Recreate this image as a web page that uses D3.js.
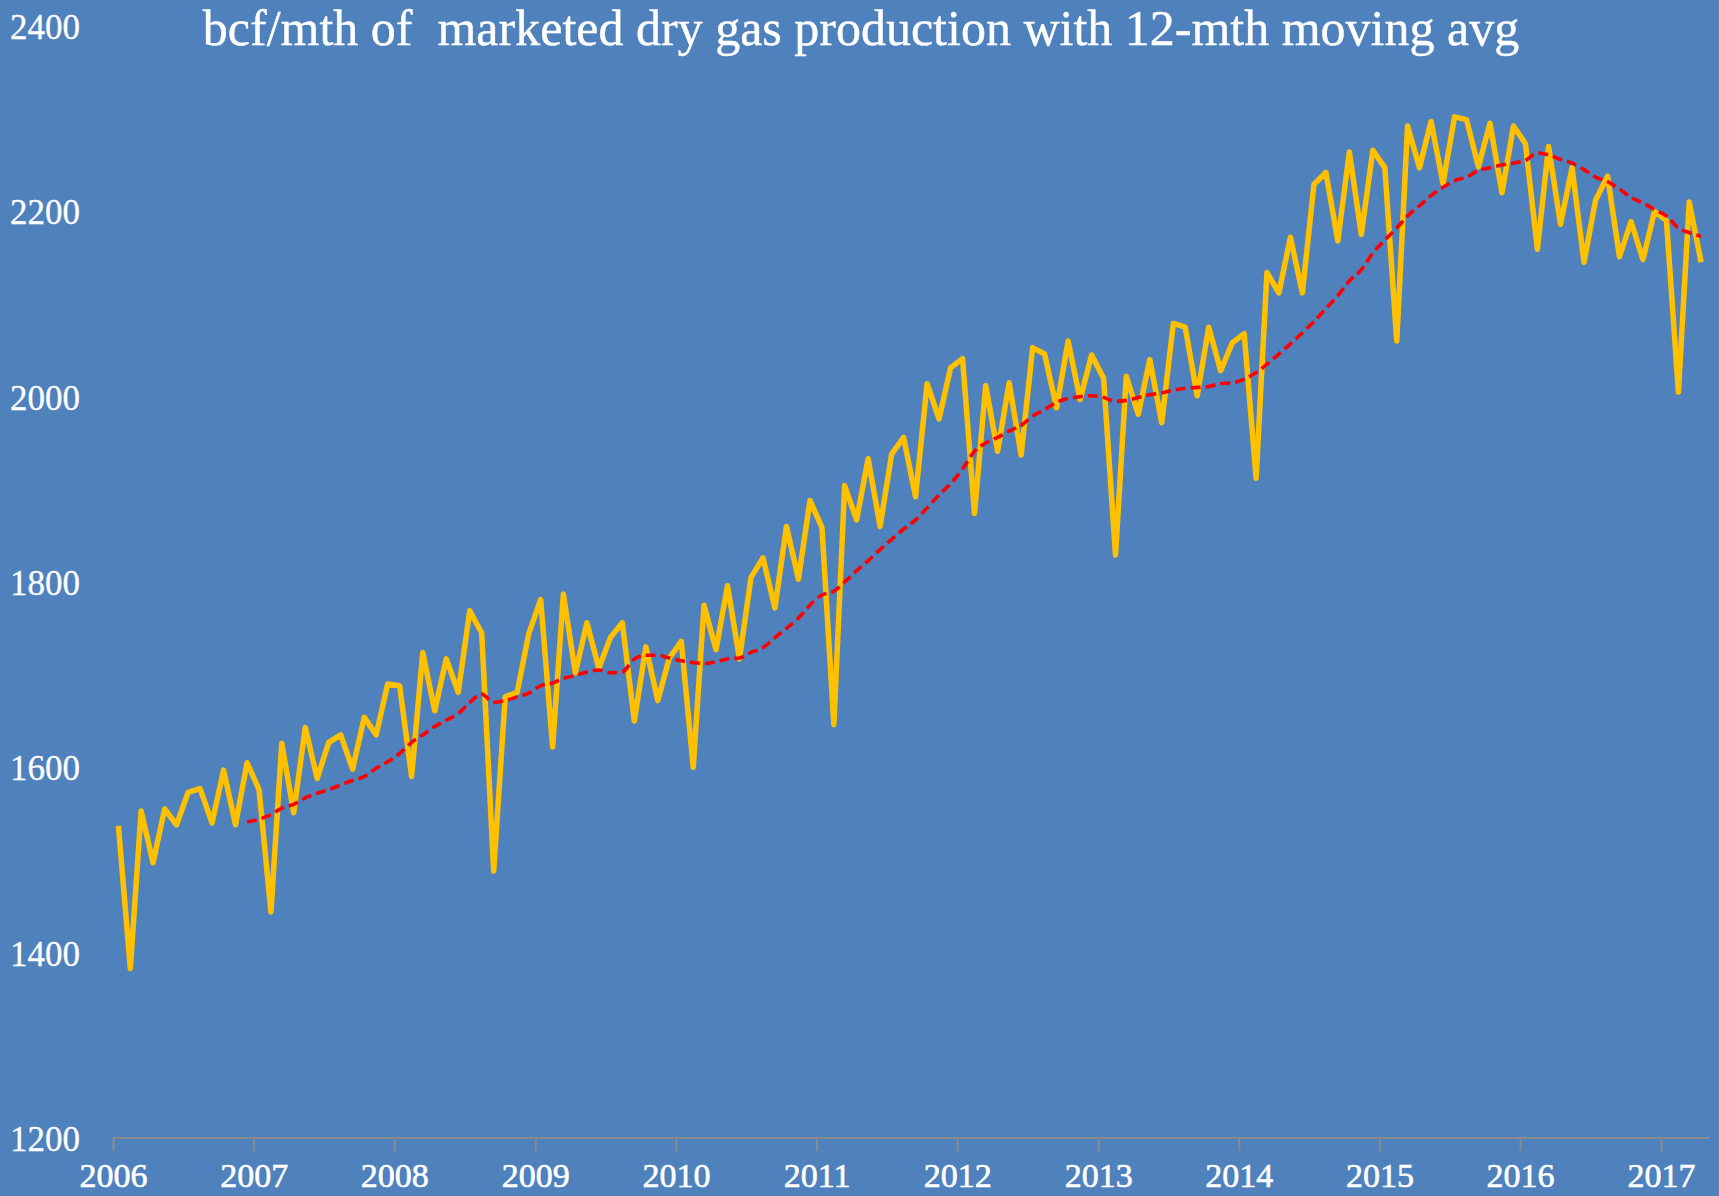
<!DOCTYPE html>
<html>
<head>
<meta charset="utf-8">
<script src="https://cdn.jsdelivr.net/npm/d3@7"></script>
<style>
  html, body { margin: 0; padding: 0; background: #4F81BD; }
  svg { display: block; }
</style>
</head>
<body>
<svg id="chart" width="1719" height="1196"></svg>
<script>
// ---- data ----
const title = "bcf/mth of  marketed dry gas production with 12-mth moving avg";
const firstMonth = [2006, 0]; // Jan 2006
// monthly marketed dry gas production, bcf/mth, Jan 2006 .. Apr 2017
const production = [
  1537, 1383, 1553, 1497, 1555, 1538, 1573, 1577, 1540, 1597, 1538, 1605,
  1576, 1444, 1626, 1551, 1643, 1588, 1627, 1635, 1598, 1654, 1635, 1690,
  1688, 1590, 1724, 1661, 1717, 1681, 1769, 1745, 1488, 1676, 1681, 1744,
  1781, 1622, 1787, 1702, 1756, 1707, 1740, 1756, 1650, 1730, 1672, 1718,
  1736, 1600, 1775, 1727, 1796, 1717, 1805, 1826, 1772, 1860, 1803, 1888,
  1859, 1646, 1904, 1867, 1933, 1860, 1938, 1956, 1892, 2014, 1976, 2031,
  2041, 1874, 2012, 1941, 2015, 1937, 2053, 2046, 1988, 2060, 1997, 2045,
  2020, 1829, 2022, 1981, 2040, 1972, 2079, 2075, 2001, 2075, 2028, 2058,
  2068, 1912, 2134, 2112, 2172, 2112, 2229, 2242, 2168, 2264, 2175, 2266,
  2247, 2060, 2292, 2247, 2297, 2230, 2302, 2299, 2248, 2295, 2220, 2292,
  2273, 2159, 2270, 2186, 2247, 2145, 2212, 2238, 2151, 2189, 2148, 2200,
  2190, 2005, 2210, 2145
];
// 12-month moving average, Dec 2006 .. Apr 2017
const maStartIndex = 11;
const movingAvg = [
  1541, 1544, 1549, 1556, 1560, 1567, 1572, 1576, 1581, 1586, 1590, 1599, 1606,
  1615, 1627, 1635, 1644, 1651, 1658, 1670, 1679, 1670, 1672, 1676, 1680,
  1688, 1691, 1696, 1699, 1703, 1705, 1702, 1703, 1717, 1721, 1721, 1718,
  1715, 1713, 1712, 1714, 1717, 1718, 1724, 1729, 1740, 1750, 1761, 1775,
  1786, 1790, 1800, 1812, 1823, 1835, 1846, 1857, 1867, 1880, 1894, 1906,
  1922, 1941, 1950, 1956, 1963, 1969, 1979, 1986, 1994, 1998, 2000, 2001,
  1999, 1995, 1996, 1999, 2002, 2004, 2007, 2009, 2010, 2011, 2014, 2015,
  2019, 2026, 2035, 2046, 2057, 2069, 2081, 2095, 2109, 2125, 2137, 2155,
  2169, 2182, 2195, 2206, 2217, 2226, 2233, 2237, 2244, 2247, 2250, 2252,
  2255, 2263, 2261, 2256, 2252, 2245, 2237, 2232, 2224, 2215, 2209, 2202,
  2195, 2182, 2177, 2173
];
const yearTicks = [2006, 2007, 2008, 2009, 2010, 2011, 2012, 2013, 2014, 2015, 2016, 2017];
const valueTicks = [1200, 1400, 1600, 1800, 2000, 2200, 2400];

// ---- chart ----
const W = 1719, H = 1196;
const svg = d3.select("#chart");
svg.append("rect").attr("width", W).attr("height", H).attr("fill", "#4F81BD");

const x = d3.scaleTime()
  .domain([new Date(2006, 0, 1), new Date(2017, 4, 8)])
  .range([113, 1710]);
const y = d3.scaleLinear().domain([1200, 2400]).range([1138, 26]);

const monthDate = i => new Date(firstMonth[0], firstMonth[1] + i, 15);

// x axis
const xAxis = d3.axisBottom(x)
  .tickValues(yearTicks.map(yr => new Date(yr, 0, 1)))
  .tickFormat(d3.timeFormat("%Y"))
  .tickSize(13)
  .tickPadding(12);
const gx = svg.append("g").attr("transform", `translate(0,${y(1200)})`).call(xAxis);
gx.select(".domain").attr("stroke", "#8a8a8a").attr("stroke-width", 2).attr("d", `M${x.range()[0]},0H${x.range()[1]}`);
gx.selectAll(".tick line").attr("stroke", "#8a8a8a").attr("stroke-width", 2);
gx.selectAll(".tick text")
  .attr("fill", "#ffffff")
  .attr("stroke", "#ffffff").attr("stroke-width", 0.6)
  .style("font-family", "'Liberation Serif', 'DejaVu Serif', serif")
  .style("font-size", "34px");

// y axis (labels only)
const yAxis = d3.axisLeft(y).tickValues(valueTicks).tickFormat(d3.format("d")).tickSize(0).tickPadding(0);
const gy = svg.append("g").attr("transform", "translate(80,0)").call(yAxis);
gy.select(".domain").remove();
gy.selectAll(".tick text")
  .attr("fill", "#ffffff")
  .attr("stroke", "#ffffff").attr("stroke-width", 0.3)
  .attr("dy", "0.36em")
  .style("font-family", "'Liberation Serif', 'DejaVu Serif', serif")
  .style("font-size", "35px");

// production line
const line = d3.line().x(d => x(d.date)).y(d => y(d.value));
const prodData = production.map((v, i) => ({ date: monthDate(i), value: v }));
svg.append("path")
  .datum(prodData)
  .attr("d", line)
  .attr("fill", "none")
  .attr("stroke", "#FFC000")
  .attr("stroke-width", 5.5)
  .attr("stroke-linejoin", "round");

// moving average line
const maData = movingAvg.map((v, k) => ({ date: monthDate(maStartIndex + k), value: v }));
svg.append("path")
  .datum(maData)
  .attr("d", line.curve(d3.curveMonotoneX))
  .attr("fill", "none")
  .attr("stroke", "#FF0000")
  .attr("stroke-width", 3.6)
  .attr("stroke-dasharray", "10,5");

// title
svg.append("text")
  .attr("x", 861).attr("y", 45)
  .attr("text-anchor", "middle")
  .attr("fill", "#ffffff")
  .attr("stroke", "#ffffff").attr("stroke-width", 0.4)
  .style("white-space", "pre")
  .attr("xml:space", "preserve")
  .style("font-family", "'Liberation Serif', 'DejaVu Serif', serif")
  .style("font-size", "50px")
  .text(title);
</script>
</body>
</html>
